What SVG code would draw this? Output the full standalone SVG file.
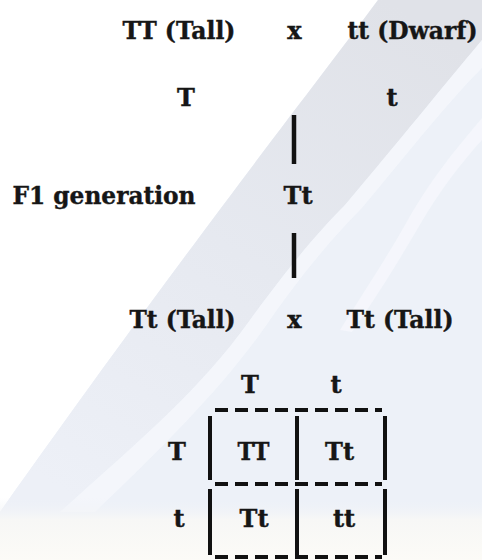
<svg xmlns="http://www.w3.org/2000/svg" width="482" height="560" viewBox="0 0 482 560">
<style>
text{font-family:"DejaVu Serif","Liberation Serif",serif;font-weight:bold;font-size:24px;fill:#161616;stroke:#161616;stroke-width:0.4;text-anchor:middle}
.v{stroke:#111;stroke-width:4.5;stroke-linecap:butt}
.g{stroke:#111;stroke-width:4;fill:none}
.d{stroke:#111;stroke-width:4;stroke-dasharray:13 7;fill:none}
</style>
<defs>
<linearGradient id="band" x1="0.8" y1="0" x2="0.2" y2="1">
<stop offset="0" stop-color="#e0e2e8"/>
<stop offset="0.5" stop-color="#e6e9f0"/>
<stop offset="1" stop-color="#edf0f7"/>
</linearGradient>
<linearGradient id="bot" x1="0" y1="0" x2="0" y2="1">
<stop offset="0" stop-color="#edf1f8" stop-opacity="0"/>
<stop offset="0.35" stop-color="#f7f7f6"/>
<stop offset="1" stop-color="#fcfbf7"/>
</linearGradient>
</defs>
<g id="background">
<rect width="482" height="560" fill="#ffffff"/>
<path d="M378,0 C300,105 200,230 0,512 L0,520 L482,535 L482,0 Z" fill="#edf1f8"/>
<path d="M378,0 C300,105 200,230 0,512 L60,512 C140,440 200,390 250,320 C290,265 320,230 345,205 C400,140 440,90 482,40 L482,0 Z" fill="url(#band)"/>
<path d="M482,40 C440,90 400,140 345,205 C320,230 290,265 250,320 C200,390 140,440 60,512 L95,512 C170,440 225,385 270,320 C305,270 335,235 362,208 C410,150 450,100 482,68 Z" fill="#f5f7fb" opacity="0.85"/>
<path d="M482,118 C455,150 430,180 405,225 C385,260 365,290 340,330 L352,332 C378,295 398,262 418,228 C440,190 462,162 482,140 Z" fill="#f6f8fc" opacity="0.8"/>
<rect x="0" y="498" width="482" height="62" fill="url(#bot)"/>
</g>
<g id="connectors">
<line class="v" x1="294" y1="115" x2="294" y2="164"/>
<line class="v" x1="294" y1="233" x2="294" y2="278"/>
</g>
<g id="parents">
<text x="179" y="39" textLength="113" lengthAdjust="spacingAndGlyphs">TT (Tall)</text>
<text x="294.5" y="39">x</text>
<text x="412.5" y="39" textLength="130" lengthAdjust="spacingAndGlyphs">tt (Dwarf)</text>
</g>
<g id="gametes">
<text x="186" y="106">T</text>
<text x="392" y="106">t</text>
</g>
<g id="f1">
<text x="104" y="204" textLength="183" lengthAdjust="spacingAndGlyphs">F1 generation</text>
<text x="298" y="204">Tt</text>
</g>
<g id="f1-cross">
<text x="182.5" y="328" textLength="106" lengthAdjust="spacingAndGlyphs">Tt (Tall)</text>
<text x="294.5" y="328">x</text>
<text x="400" y="328" textLength="107" lengthAdjust="spacingAndGlyphs">Tt (Tall)</text>
</g>
<g id="punnett">
<text x="250" y="393">T</text>
<text x="336" y="393">t</text>
<text x="177" y="460">T</text>
<text x="179" y="527">t</text>
<line class="d" x1="215" y1="410" x2="382" y2="410"/>
<line class="d" x1="215" y1="484" x2="382" y2="484"/>
<line class="d" x1="215" y1="557" x2="382" y2="557"/>
<line class="g" x1="210" y1="416" x2="210" y2="480"/>
<line class="g" x1="297" y1="416" x2="297" y2="480"/>
<line class="g" x1="385" y1="416" x2="385" y2="480"/>
<line class="g" x1="210" y1="489" x2="210" y2="555"/>
<line class="g" x1="297" y1="489" x2="297" y2="555"/>
<line class="g" x1="385" y1="489" x2="385" y2="555"/>
<text x="253.5" y="460" textLength="32" lengthAdjust="spacingAndGlyphs">TT</text>
<text x="339.5" y="460">Tt</text>
<text x="254" y="527">Tt</text>
<text x="344" y="527">tt</text>
</g>
</svg>
